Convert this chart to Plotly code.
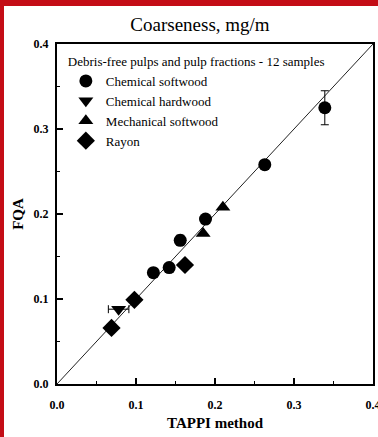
import plotly.graph_objects as go

# Data
cs_x = [0.339, 0.263, 0.188, 0.156, 0.142, 0.122]
cs_y = [0.325, 0.258, 0.194, 0.169, 0.137, 0.131]
cs_err_y = [0.020, 0.004, 0.0, 0.006, 0.0, 0.0]
cs_err_x = [0.0, 0.004, 0.0, 0.005, 0.0, 0.0]

ch_x = [0.078]
ch_y = [0.088]
ch_err_x = [0.013]

ms_x = [0.185, 0.210]
ms_y = [0.177, 0.208]

ry_x = [0.069, 0.098, 0.162]
ry_y = [0.066, 0.099, 0.140]

line_x = [0.0, 0.4]
line_y = [0.0, 0.4]

x_ticks = [0.0, 0.1, 0.2, 0.3, 0.4]
x_labels = ["0.0", "0.1", "0.2", "0.3", "0.4"]
y_ticks = [0.0, 0.1, 0.2, 0.3, 0.4]
y_labels = ["0.0", "0.1", "0.2", "0.3", "0.4"]

SERIF = "Liberation Serif, Times New Roman, Times, serif"

fig = go.Figure()

fig.add_trace(go.Scatter(x=line_x, y=line_y, mode="lines",
                         line=dict(color="#222", width=1), showlegend=False, hoverinfo="skip"))

err_style = dict(color="black", thickness=1, width=4)

fig.add_trace(go.Scatter(
    x=cs_x, y=cs_y, mode="markers", name="Chemical softwood",
    marker=dict(symbol="circle", size=13, color="black"),
    error_y=dict(type="data", array=cs_err_y, visible=True, **err_style),
    error_x=dict(type="data", array=cs_err_x, visible=True, **err_style),
))
fig.add_trace(go.Scatter(
    x=ch_x, y=ch_y, mode="markers", name="Chemical hardwood",
    marker=dict(symbol="triangle-down", size=13, color="black"),
    error_x=dict(type="data", array=ch_err_x, visible=True, **err_style),
))
fig.add_trace(go.Scatter(
    x=ms_x, y=ms_y, mode="markers", name="Mechanical softwood",
    marker=dict(symbol="triangle-up", size=13, color="black"),
))
fig.add_trace(go.Scatter(
    x=ry_x, y=ry_y, mode="markers", name="Rayon",
    marker=dict(symbol="diamond", size=14, color="black"),
))

axis_common = dict(
    showline=True, linecolor="black", linewidth=2, mirror=True,
    ticks="inside", ticklen=6, tickwidth=1.5, tickcolor="black",
    showgrid=False, zeroline=False, automargin=False,
    ticklabeloverflow="allow",
    tickfont=dict(family=SERIF, size=12, color="black", weight="bold"),
    minor=dict(ticks="inside", ticklen=3, tickwidth=1, tickcolor="black", dtick=0.05),
)

fig.update_xaxes(range=[0, 0.4], tickvals=x_ticks, ticktext=x_labels,
                 title=dict(text="TAPPI method", standoff=6,
                            font=dict(family=SERIF, size=15, color="black", weight="bold")),
                 ticklabelstandoff=9, **axis_common)
fig.update_yaxes(range=[0, 0.4], tickvals=y_ticks, ticktext=y_labels,
                 title=dict(text="FQA", standoff=6,
                            font=dict(family=SERIF, size=15, color="black", weight="bold")),
                 ticklabelstandoff=4, **axis_common)

fig.update_layout(
    width=378, height=437, autosize=False,
    margin=dict(l=57, r=5, t=44, b=53, autoexpand=False),
    paper_bgcolor="white", plot_bgcolor="white",
    font=dict(family=SERIF, color="black"),
    title=dict(text="Coarseness, mg/m", x=200/378, xanchor="center", y=1 - 24/437, yanchor="middle",
               font=dict(family=SERIF, size=19, color="black")),
    legend=dict(
        title=dict(text="Debris-free pulps and pulp fractions - 12 samples",
                   font=dict(family=SERIF, size=13, color="black")),
        x=0.028, y=0.985, xanchor="left", yanchor="top",
        bgcolor="rgba(0,0,0,0)", font=dict(family=SERIF, size=13, color="black"),
        tracegroupgap=0, itemwidth=30,
    ),
    shapes=[
        dict(type="rect", xref="paper", yref="paper", x0=-57/316, x1=1 + 5/316,
             y0=1 + 38/340, y1=1 + 44/340, fillcolor="#c40d16", line=dict(width=0), layer="above"),
        dict(type="rect", xref="paper", yref="paper", x0=-57/316, x1=-53/316,
             y0=-53/340, y1=1 + 44/340, fillcolor="#c40d16", line=dict(width=0), layer="above"),
    ],
)

fig.write_html(
    "out.html",
    config={"responsive": False, "displayModeBar": False},
    post_script="document.body.style.margin='0';document.body.style.overflow='hidden';",
)
